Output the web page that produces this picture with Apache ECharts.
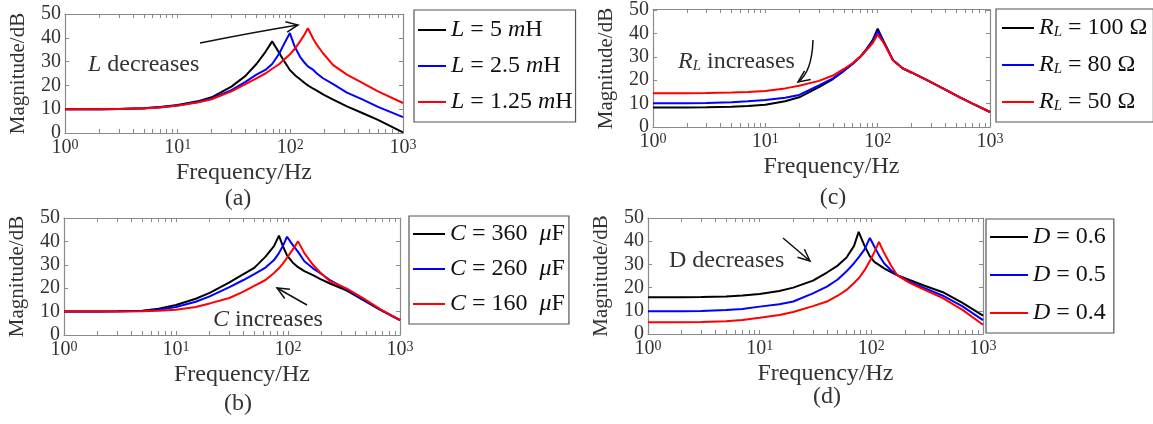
<!DOCTYPE html>
<html>
<head>
<meta charset="utf-8">
<script src="https://cdn.jsdelivr.net/npm/echarts@6.0.0/dist/echarts.min.js"></script>
<style>
  html, body { margin: 0; padding: 0; background: #fff; }
  #chart { width: 1153px; height: 424px; }
</style>
</head>
<body>
<div id="chart"></div>
<script>
// ---- data ----
// (a) inductance L
const freqA = [1, 2, 3, 5, 7, 10, 15, 20, 30, 40, 50, 60, 69, 80, 86, 99, 110, 122, 134, 143, 160, 172, 195, 240, 318, 440, 600, 1000];
const magA_L5 = [10, 10, 10.1, 10.4, 10.9, 11.8, 13.3, 15, 19.5, 24, 29, 34, 38.5, 33.5, 31, 26.5, 24.3, 22.6, 21, 20, 18.6, 17.8, 16.2, 14, 11.2, 8.3, 5.5, 0.3];
const magA_L25 = [10, 10, 10.1, 10.4, 10.8, 11.6, 13, 14.5, 18, 21.5, 24.5, 26.5, 29, 33.5, 36.5, 42, 36, 32, 29.5, 28, 26.5, 25, 23, 20.5, 17, 14, 11, 6.7];
const magA_L125 = [10, 10, 10.1, 10.3, 10.7, 11.5, 12.8, 14.2, 17.5, 20.5, 23, 25, 27, 29, 30.5, 33, 35.5, 38.5, 41.5, 44, 39.5, 37, 33.5, 28.5, 24.5, 21, 17.5, 12.6];

// (b) capacitance C
const freqB = [1, 2, 3, 5, 7, 10, 15, 20, 30, 40, 50, 63, 75, 83, 90, 98, 110, 123, 140, 167, 193, 237, 335, 467, 660, 1000];
const magB_360 = [10, 10, 10.1, 10.4, 11.2, 12.8, 15.5, 18, 22.5, 26, 28.7, 33.5, 38, 42.5, 38, 34, 31, 29, 27.3, 25.6, 24, 22, 19, 15, 10.8, 6.4];
const magB_260 = [10, 10, 10.1, 10.3, 10.8, 12, 14.2, 16.5, 20.5, 23.5, 26, 28.8, 32, 35, 38, 42, 38.5, 35.5, 31.5, 28.5, 26.5, 23.5, 19.5, 15.3, 11, 6.4];
const magB_160 = [10, 10, 10, 10.2, 10.4, 10.8, 12, 13.5, 15.8, 18.5, 21, 23.5, 26.5, 28.5, 30.5, 33, 36.5, 40, 35, 30, 26.8, 23, 19.8, 15.8, 11.2, 6.4];

// (c) load resistance RL
const freqC = [1, 2, 3, 5, 7, 10, 15, 20, 30, 40, 50, 60, 70, 80, 90, 100, 112, 137, 168, 200, 275, 400, 540, 700, 1000];
const magC_100 = [8.3, 8.3, 8.4, 8.7, 9.0, 9.5, 11, 12.7, 17, 20.5, 24, 27, 30, 33.5, 37, 42, 37, 28.5, 25, 23.3, 20, 16, 12.7, 10, 6.4];
const magC_80 = [10.2, 10.2, 10.3, 10.6, 11, 11.5, 12.5, 13.7, 17.8, 20.8, 24, 27, 30, 33.3, 36.5, 41, 36.8, 28.5, 25, 23.3, 20, 16, 12.7, 10, 6.4];
const magC_50 = [14.4, 14.4, 14.5, 14.7, 15, 15.4, 16.5, 17.6, 19.7, 22, 24.8, 27.3, 30, 33, 35.8, 39.5, 36.3, 28.5, 25, 23.3, 20, 16, 12.7, 10, 6.4];

// (d) duty cycle D
const freqD = [1, 2, 3, 5, 7, 10, 15, 20, 30, 40, 50, 60, 70, 77, 87, 97, 107, 117, 130, 150, 170, 220, 300, 437, 650, 1000];
const magD_06 = [15.8, 15.8, 15.9, 16.2, 16.6, 17.2, 18.5, 20, 23, 26.5, 29.5, 33, 38, 44, 38, 33.5, 31, 29.8, 28.3, 26.7, 25.4, 23.3, 20.8, 18, 13.5, 7.9];
const magD_05 = [9.8, 9.8, 9.9, 10.3, 10.8, 11.8, 12.8, 14, 17.5, 20.4, 23.5, 27, 30.5, 33, 36.5, 41.4, 37.5, 34, 30.5, 27.5, 25.4, 22.5, 19.8, 16.5, 12, 6];
const magD_04 = [5.1, 5.1, 5.2, 5.5, 6, 7, 8.2, 9.5, 12, 14, 16.5, 19, 22, 24, 27.5, 31.5, 35.5, 39.7, 35, 29.5, 25.4, 22, 19, 15.5, 10.5, 4];

// log-decade tick marks 1..1000
const xTickValues = [1, 2, 3, 4, 5, 6, 7, 8, 9, 10, 20, 30, 40, 50, 60, 70, 80, 90, 100, 200, 300, 400, 500, 600, 700, 800, 900, 1000];
const colors = ['#000000', '#0000ff', '#ff0000'];

// legend labels -> rich text
const legendRich = {
  'L = 5 mH': '{i|L} = 5 {i|m}H',
  'L = 2.5 mH': '{i|L} = 2.5 {i|m}H',
  'L = 1.25 mH': '{i|L} = 1.25 {i|m}H',
  'C = 360 uF': '{i|C} = 360  {i|\u03bc}F',
  'C = 260 uF': '{i|C} = 260  {i|\u03bc}F',
  'C = 160 uF': '{i|C} = 160  {i|\u03bc}F',
  'RL = 100': '{i|R}{sub|L} = 100 \u03a9',
  'RL = 80': '{i|R}{sub|L} = 80 \u03a9',
  'RL = 50': '{i|R}{sub|L} = 50 \u03a9',
  'D = 0.6': '{i|D} = 0.6',
  'D = 0.5': '{i|D} = 0.5',
  'D = 0.4': '{i|D} = 0.4'
};

const FONT = 'Liberation Serif';
const TXT = '#333';
const AX = '#8a8a8a';
const LFS = 24; // legend / annotation font size

const rich = {
  i: { fontFamily: FONT, fontSize: LFS, fontStyle: 'italic', color: '#111' },
  sub: { fontFamily: FONT, fontSize: 15, fontStyle: 'italic', color: '#111', verticalAlign: 'bottom', padding: [9, 0, 0, 0] }
};

// panel layout: a, b, c, d
const grids = [
  { left: 65, top: 14, width: 338, height: 119 },
  { left: 64, top: 218, width: 336, height: 117 },
  { left: 653, top: 9, width: 337, height: 118 },
  { left: 648, top: 218, width: 335, height: 116 }
];

const panels = [
  { f: freqA, names: ['L = 5 mH', 'L = 2.5 mH', 'L = 1.25 mH'], mags: [magA_L5, magA_L25, magA_L125],
    legend: { left: 414, top: 10, iw: 28, gap: 12, pad: [8, 3, 8, 4] } },
  { f: freqB, names: ['C = 360 uF', 'C = 260 uF', 'C = 160 uF'], mags: [magB_360, magB_260, magB_160],
    legend: { left: 409, top: 216, iw: 32, gap: 11, pad: [6, 4, 8, 4] } },
  { f: freqC, names: ['RL = 100', 'RL = 80', 'RL = 50'], mags: [magC_100, magC_80, magC_50],
    legend: { left: 996, top: 9, iw: 32, gap: 13, pad: [7, 6, 8, 6] } },
  { f: freqD, names: ['D = 0.6', 'D = 0.5', 'D = 0.4'], mags: [magD_06, magD_05, magD_04],
    legend: { left: 986, top: 219, iw: 38, gap: 14, pad: [6, 8, 8, 4] } }
];

const xAxes = [], yAxes = [], series = [], legends = [];
const gridList = grids.map(g => Object.assign({}, g)).concat(grids.map(g => Object.assign({}, g)));
const logTicks = xTickValues.map(v => Math.log10(v));

grids.forEach((g, i) => {
  // main data axes
  const xi = xAxes.length;
  xAxes.push({
    type: 'log', logBase: 10, min: 1, max: 1000, gridIndex: i, position: 'bottom',
    axisLine: { show: true, lineStyle: { color: AX, width: 1.2 } },
    axisTick: { show: false },
    axisLabel: {
      margin: 5,
      formatter: v => '{b|10}{s|' + Math.round(Math.log10(v)) + '}',
      rich: {
        b: { fontFamily: FONT, fontSize: 20, color: TXT },
        s: { fontFamily: FONT, fontSize: 14, color: TXT, verticalAlign: 'top' }
      }
    },
    splitLine: { show: false },
    name: 'Frequency/Hz', nameLocation: 'middle', nameGap: 28,
    nameTextStyle: { fontFamily: FONT, fontSize: 24, color: TXT, padding: [0, 0, 0, 20] }
  });
  const yi = yAxes.length;
  yAxes.push({
    type: 'value', min: 0, max: 50, interval: 10, gridIndex: i, position: 'left',
    axisLine: { show: true, lineStyle: { color: AX, width: 1.2 } },
    axisTick: { show: true, inside: true, length: 4, lineStyle: { color: AX } },
    axisLabel: { margin: 4, fontFamily: FONT, fontSize: 20, color: TXT },
    splitLine: { show: false },
    name: 'Magnitude/dB', nameLocation: 'middle', nameGap: 36,
    nameTextStyle: { fontFamily: FONT, fontSize: 21, color: TXT }
  });
  yAxes.push({
    type: 'value', min: 0, max: 50, interval: 10, gridIndex: i, position: 'right',
    axisLine: { show: true, lineStyle: { color: AX, width: 1.2 } },
    axisTick: { show: true, inside: true, length: 4, lineStyle: { color: AX } },
    axisLabel: { show: false }, splitLine: { show: false }
  });

  // overlay grid: log-decade tick marks on bottom and top edges
  ['bottom', 'top'].forEach(pos => {
    xAxes.push({
      type: 'value', min: 0, max: 3, gridIndex: 4 + i, position: pos,
      axisLine: { show: pos === 'top', lineStyle: { color: AX, width: 1.2 } },
      axisTick: { show: true, inside: true, length: 4, customValues: logTicks, lineStyle: { color: AX } },
      axisLabel: { show: false }, splitLine: { show: false }
    });
  });
  yAxes.push({ type: 'value', min: 0, max: 50, gridIndex: 4 + i, show: false });

  const p = panels[i];
  p.names.forEach((name, k) => {
    series.push({
      name: name, type: 'line', xAxisIndex: xi, yAxisIndex: yi,
      data: p.f.map((x, j) => [x, p.mags[k][j]]),
      showSymbol: false, symbol: 'none', silent: true,
      lineStyle: { color: colors[k], width: 2 }, itemStyle: { color: colors[k] }
    });
  });
  const lg = p.legend;
  legends.push({
    data: p.names, orient: 'vertical', left: lg.left, top: lg.top,
    padding: lg.pad, itemGap: lg.gap, itemWidth: lg.iw, itemHeight: 2,
    icon: 'rect', borderColor: '#555', borderWidth: 1.2, selectedMode: false,
    formatter: n => legendRich[n],
    textStyle: { fontFamily: FONT, fontSize: LFS, color: '#111', rich: rich }
  });
});

// annotation arrows (decoration)
function arrow(x1, y1, x2, y2, cx, cy) {
  const px = cx === undefined ? x1 : cx, py = cy === undefined ? y1 : cy;
  const a = Math.atan2(y2 - py, x2 - px), L = 13, s = 0.42;
  const shaft = cx === undefined
    ? { type: 'line', shape: { x1, y1, x2, y2 }, style: { stroke: '#111', lineWidth: 1.5 } }
    : { type: 'bezierCurve', shape: { x1, y1, x2, y2, cpx1: cx, cpy1: cy }, style: { stroke: '#111', lineWidth: 1.5, fill: null } };
  const head = {
    type: 'polyline',
    shape: { points: [[x2 - L * Math.cos(a - s), y2 - L * Math.sin(a - s)], [x2, y2], [x2 - L * Math.cos(a + s), y2 - L * Math.sin(a + s)]] },
    style: { stroke: '#111', lineWidth: 1.5, fill: null }
  };
  return [shaft, head];
}

function label(x, y, text) {
  return {
    type: 'text', x: x, y: y,
    style: { text: text, fontFamily: FONT, fontSize: LFS, fill: TXT, verticalAlign: 'middle', rich: {
      i: { fontFamily: FONT, fontSize: LFS, fontStyle: 'italic', fill: TXT },
      sub: { fontFamily: FONT, fontSize: 15, fontStyle: 'italic', fill: TXT, verticalAlign: 'bottom', padding: [9, 0, 0, 0] }
    } }
  };
}

function caption(x, y, text) {
  return { type: 'text', x: x, y: y, style: { text: text, fontFamily: FONT, fontSize: 24, fill: TXT, align: 'center', verticalAlign: 'middle' } };
}

const graphic = [].concat(
  [label(88, 65, '{i|L} decreases'), label(678, 62, '{i|R}{sub|L} increases'), label(213, 320, '{i|C} increases'), label(669, 261, 'D decreases')],
  arrow(200, 43, 298, 25, 255, 32),
  arrow(813, 40, 798, 82, 812, 72),
  arrow(307, 305, 277, 288),
  arrow(783, 238, 810, 261),
  [caption(238, 199, '(a)'), caption(238, 404, '(b)'), caption(833, 198, '(c)'), caption(827, 397, '(d)')]
);

const myChart = echarts.init(document.getElementById('chart'), null, { renderer: 'canvas' });
myChart.setOption({
  animation: false,
  backgroundColor: '#fff',
  grid: gridList,
  xAxis: xAxes,
  yAxis: yAxes,
  legend: legends,
  series: series,
  graphic: graphic
});
</script>
</body>
</html>
